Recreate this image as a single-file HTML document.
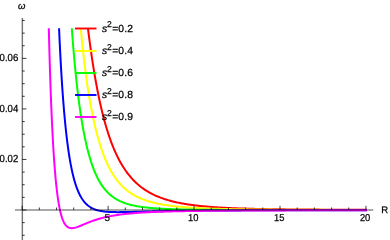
<!DOCTYPE html>
<html><head><meta charset="utf-8"><title>plot</title>
<style>
html,body{margin:0;padding:0;background:#fff;}
body{width:390px;height:240px;overflow:hidden;font-family:"Liberation Sans",sans-serif;}
svg{display:block;will-change:transform;}
text{font-family:"Liberation Sans",sans-serif;fill:#000;stroke:#000;stroke-width:0.25px;text-rendering:geometricPrecision;}
</style></head><body>
<svg width="390" height="240" viewBox="0 0 390 240">
<rect width="390" height="240" fill="#fff"/>
<g fill="none" stroke-width="2" stroke-linejoin="round" stroke-linecap="butt">
<path d="M87.93,28.30 L88.10,29.63 L88.20,30.43 L88.30,31.23 L88.50,32.80 L88.70,34.37 L88.90,35.92 L89.10,37.45 L89.30,38.98 L89.50,40.48 L89.70,41.98 L89.90,43.46 L90.10,44.92 L90.30,46.38 L90.50,47.82 L90.70,49.24 L90.90,50.66 L91.10,52.06 L91.30,53.44 L91.50,54.82 L91.70,56.18 L91.90,57.53 L92.10,58.86 L92.30,60.19 L92.50,61.50 L92.70,62.79 L92.90,64.08 L93.10,65.35 L93.30,66.61 L93.50,67.86 L93.70,69.10 L93.90,70.33 L94.10,71.54 L94.30,72.74 L94.50,73.93 L94.70,75.11 L94.90,76.28 L95.10,77.44 L95.30,78.58 L95.50,79.72 L95.70,80.84 L95.90,81.95 L96.10,83.05 L96.30,84.15 L96.50,85.23 L96.70,86.30 L96.90,87.36 L97.10,88.41 L97.30,89.45 L97.50,90.48 L97.70,91.50 L97.90,92.51 L98.10,93.51 L98.30,94.50 L98.50,95.48 L98.70,96.45 L98.90,97.42 L99.10,98.37 L99.30,99.31 L99.50,100.25 L99.70,101.18 L99.90,102.09 L100.10,103.00 L100.30,103.90 L100.50,104.79 L100.70,105.68 L100.90,106.55 L101.10,107.42 L101.30,108.28 L101.50,109.12 L101.70,109.97 L101.90,110.80 L102.10,111.63 L102.30,112.44 L102.50,113.25 L102.70,114.06 L102.90,114.85 L103.10,115.64 L103.30,116.42 L103.60,117.57 L103.90,118.71 L104.20,119.84 L104.50,120.94 L104.80,122.03 L105.10,123.11 L105.40,124.17 L105.70,125.22 L106.00,126.25 L106.30,127.27 L106.60,128.27 L106.90,129.26 L107.20,130.24 L107.50,131.20 L107.80,132.15 L108.10,133.08 L108.40,134.00 L108.70,134.91 L109.00,135.81 L109.30,136.70 L109.60,137.57 L109.90,138.43 L110.20,139.28 L110.50,140.12 L110.80,140.94 L111.10,141.76 L111.40,142.56 L111.70,143.35 L112.00,144.13 L112.30,144.91 L112.60,145.67 L112.90,146.42 L113.30,147.40 L113.70,148.37 L114.10,149.32 L114.50,150.25 L114.90,151.17 L115.30,152.07 L115.70,152.95 L116.10,153.82 L116.50,154.68 L116.90,155.52 L117.30,156.34 L117.70,157.15 L118.10,157.95 L118.50,158.73 L118.90,159.50 L119.30,160.25 L119.70,160.99 L120.10,161.72 L120.50,162.44 L120.90,163.14 L121.40,164.01 L121.90,164.85 L122.40,165.68 L122.90,166.49 L123.40,167.28 L123.90,168.06 L124.40,168.82 L124.90,169.56 L125.40,170.29 L125.90,171.01 L126.40,171.70 L126.90,172.39 L127.40,173.06 L127.90,173.72 L128.40,174.36 L128.90,174.99 L129.50,175.73 L131.00,177.50 L132.00,178.62 L133.00,179.70 L134.00,180.73 L135.00,181.73 L136.00,182.68 L137.00,183.60 L138.00,184.49 L139.00,185.33 L140.00,186.15 L141.00,186.94 L142.00,187.69 L143.00,188.42 L144.00,189.12 L145.00,189.80 L146.00,190.45 L147.00,191.08 L148.00,191.68 L149.00,192.26 L150.00,192.82 L151.00,193.36 L152.00,193.88 L153.00,194.38 L154.00,194.87 L155.00,195.34 L156.00,195.79 L157.00,196.22 L158.00,196.64 L159.00,197.05 L160.00,197.44 L161.00,197.82 L162.00,198.18 L163.00,198.53 L164.00,198.87 L165.00,199.20 L166.00,199.52 L167.00,199.83 L168.00,200.12 L169.00,200.41 L170.00,200.69 L171.00,200.96 L172.00,201.22 L173.00,201.47 L174.00,201.71 L175.00,201.95 L176.00,202.18 L177.00,202.40 L178.00,202.61 L179.00,202.82 L180.00,203.02 L181.00,203.21 L182.00,203.40 L183.00,203.58 L184.00,203.75 L185.00,203.92 L186.00,204.09 L187.00,204.25 L188.00,204.40 L189.00,204.56 L190.00,204.70 L191.00,204.84 L192.00,204.98 L193.00,205.11 L194.00,205.24 L195.00,205.37 L196.00,205.49 L197.00,205.61 L198.00,205.72 L199.00,205.83 L200.00,205.94 L201.00,206.04 L202.00,206.14 L203.00,206.24 L204.00,206.34 L205.00,206.43 L206.00,206.52 L207.00,206.61 L208.00,206.69 L209.00,206.77 L210.00,206.85 L211.00,206.93 L212.00,207.01 L213.00,207.08 L214.00,207.15 L215.00,207.22 L216.00,207.29 L217.00,207.35 L218.00,207.42 L219.00,207.48 L220.00,207.54 L221.00,207.60 L222.00,207.66 L223.00,207.71 L224.00,207.76 L225.00,207.82 L226.00,207.87 L227.00,207.92 L228.00,207.97 L229.00,208.01 L230.00,208.06 L231.00,208.10 L232.00,208.15 L233.00,208.19 L234.00,208.23 L235.00,208.27 L236.00,208.31 L237.00,208.35 L238.00,208.38 L239.00,208.42 L240.00,208.45 L241.00,208.49 L242.00,208.52 L243.00,208.55 L244.00,208.58 L245.00,208.61 L246.00,208.64 L247.00,208.67 L248.00,208.70 L249.00,208.73 L250.00,208.75 L251.00,208.78 L252.00,208.81 L253.00,208.83 L254.00,208.85 L255.00,208.88 L256.00,208.90 L257.00,208.92 L258.00,208.95 L259.00,208.97 L260.00,208.99 L261.00,209.01 L262.00,209.03 L263.00,209.05 L264.00,209.07 L265.00,209.08 L266.00,209.10 L267.00,209.12 L268.00,209.14 L269.00,209.15 L270.00,209.17 L271.00,209.18 L272.00,209.20 L273.00,209.21 L274.00,209.23 L275.00,209.24 L276.00,209.26 L277.00,209.27 L278.00,209.28 L279.00,209.30 L280.00,209.31 L281.00,209.32 L282.00,209.33 L283.00,209.34 L284.00,209.36 L285.00,209.37 L286.00,209.38 L287.00,209.39 L288.00,209.40 L289.00,209.41 L290.00,209.42 L291.00,209.43 L292.00,209.44 L293.00,209.45 L294.00,209.46 L295.00,209.47 L296.00,209.47 L297.00,209.48 L298.00,209.49 L299.00,209.50 L300.00,209.51 L301.00,209.51 L302.00,209.52 L303.00,209.53 L304.00,209.54 L305.00,209.54 L306.00,209.55 L307.00,209.56 L308.00,209.56 L309.00,209.57 L310.00,209.57 L311.00,209.58 L312.00,209.59 L313.00,209.59 L314.00,209.60 L315.00,209.60 L316.00,209.61 L317.00,209.61 L318.00,209.62 L319.00,209.62 L320.00,209.63 L321.00,209.63 L322.00,209.64 L323.00,209.64 L324.00,209.65 L325.00,209.65 L326.00,209.66 L327.00,209.66 L328.00,209.66 L329.00,209.67 L330.00,209.67 L331.00,209.68 L332.00,209.68 L333.00,209.68 L334.00,209.69 L335.00,209.69 L336.00,209.69 L337.00,209.70 L338.00,209.70 L339.00,209.70 L340.00,209.71 L341.00,209.71 L342.00,209.71 L343.00,209.72 L344.00,209.72 L345.00,209.72 L346.00,209.72 L347.00,209.73 L348.00,209.73 L349.00,209.73 L350.00,209.73 L351.00,209.74 L352.00,209.74 L353.00,209.74 L354.00,209.74 L355.00,209.75 L356.00,209.75 L357.00,209.75 L358.00,209.75 L359.00,209.75 L360.00,209.76 L361.00,209.76 L362.00,209.76 L363.00,209.76 L364.00,209.76 L365.00,209.77 L366.00,209.77 L367.00,209.77" stroke="#ff0000"/>
<path d="M80.74,28.30 L80.90,29.99 L81.00,31.06 L81.10,32.12 L81.20,33.18 L81.30,34.22 L81.40,35.26 L81.50,36.28 L81.60,37.30 L81.70,38.32 L81.80,39.32 L81.90,40.32 L82.00,41.31 L82.10,42.29 L82.20,43.26 L82.30,44.23 L82.40,45.19 L82.50,46.14 L82.60,47.08 L82.70,48.02 L82.80,48.95 L82.90,49.87 L83.00,50.79 L83.10,51.70 L83.20,52.60 L83.30,53.50 L83.40,54.39 L83.50,55.27 L83.60,56.15 L83.70,57.02 L83.80,57.88 L83.90,58.74 L84.00,59.59 L84.10,60.44 L84.20,61.28 L84.30,62.11 L84.40,62.94 L84.50,63.76 L84.60,64.58 L84.70,65.39 L84.80,66.20 L84.90,67.00 L85.00,67.79 L85.20,69.36 L85.40,70.91 L85.60,72.44 L85.80,73.95 L86.00,75.44 L86.20,76.91 L86.40,78.36 L86.60,79.79 L86.80,81.20 L87.00,82.59 L87.20,83.97 L87.40,85.32 L87.60,86.66 L87.80,87.98 L88.00,89.29 L88.20,90.58 L88.40,91.85 L88.60,93.11 L88.80,94.35 L89.00,95.57 L89.20,96.78 L89.40,97.97 L89.60,99.15 L89.80,100.32 L90.00,101.47 L90.20,102.61 L90.40,103.73 L90.60,104.84 L90.80,105.93 L91.00,107.02 L91.20,108.09 L91.40,109.14 L91.60,110.19 L91.80,111.22 L92.00,112.24 L92.20,113.24 L92.40,114.24 L92.60,115.22 L92.80,116.19 L93.00,117.15 L93.20,118.10 L93.40,119.04 L93.60,119.96 L93.80,120.88 L94.00,121.78 L94.20,122.68 L94.40,123.56 L94.60,124.43 L94.80,125.30 L95.00,126.15 L95.20,127.00 L95.40,127.83 L95.60,128.65 L95.80,129.47 L96.00,130.27 L96.20,131.07 L96.40,131.86 L96.60,132.64 L96.90,133.79 L97.20,134.92 L97.50,136.03 L97.80,137.12 L98.10,138.20 L98.40,139.26 L98.70,140.30 L99.00,141.32 L99.30,142.32 L99.60,143.31 L99.90,144.28 L100.20,145.24 L100.50,146.18 L100.80,147.10 L101.10,148.01 L101.40,148.91 L101.70,149.79 L102.00,150.65 L102.30,151.50 L102.60,152.34 L102.90,153.16 L103.20,153.97 L103.50,154.77 L103.80,155.55 L104.10,156.32 L104.40,157.08 L104.70,157.83 L105.10,158.81 L105.50,159.76 L105.90,160.70 L106.30,161.61 L106.70,162.51 L107.10,163.39 L107.50,164.25 L107.90,165.09 L108.30,165.91 L108.70,166.72 L109.10,167.51 L109.50,168.28 L109.90,169.03 L110.30,169.78 L110.70,170.50 L111.10,171.21 L111.50,171.91 L112.00,172.76 L112.50,173.58 L113.00,174.39 L113.50,175.18 L114.00,175.94 L114.50,176.69 L115.00,177.42 L115.50,178.13 L116.00,178.82 L116.50,179.49 L117.00,180.15 L117.50,180.79 L118.00,181.42 L118.60,182.15 L119.20,182.86 L119.80,183.54 L120.40,184.21 L121.00,184.86 L121.60,185.49 L122.20,186.10 L122.80,186.69 L123.40,187.27 L124.00,187.83 L124.60,188.37 L125.30,188.99 L126.00,189.58 L126.70,190.15 L127.40,190.71 L128.10,191.25 L128.80,191.77 L129.50,192.27 L131.00,193.30 L132.00,193.94 L133.00,194.56 L134.00,195.14 L135.00,195.71 L136.00,196.24 L137.00,196.75 L138.00,197.25 L139.00,197.71 L140.00,198.16 L141.00,198.59 L142.00,199.00 L143.00,199.40 L144.00,199.77 L145.00,200.14 L146.00,200.48 L147.00,200.81 L148.00,201.13 L149.00,201.44 L150.00,201.73 L151.00,202.01 L152.00,202.28 L153.00,202.54 L154.00,202.79 L155.00,203.02 L156.00,203.25 L157.00,203.47 L158.00,203.69 L159.00,203.89 L160.00,204.08 L161.00,204.27 L162.00,204.45 L163.00,204.63 L164.00,204.80 L165.00,204.96 L166.00,205.11 L167.00,205.26 L168.00,205.41 L169.00,205.55 L170.00,205.68 L171.00,205.81 L172.00,205.93 L173.00,206.05 L174.00,206.17 L175.00,206.28 L176.00,206.39 L177.00,206.49 L178.00,206.59 L179.00,206.69 L180.00,206.78 L181.00,206.87 L182.00,206.96 L183.00,207.05 L184.00,207.13 L185.00,207.21 L186.00,207.28 L187.00,207.36 L188.00,207.43 L189.00,207.50 L190.00,207.56 L191.00,207.63 L192.00,207.69 L193.00,207.75 L194.00,207.81 L195.00,207.87 L196.00,207.92 L197.00,207.98 L198.00,208.03 L199.00,208.08 L200.00,208.13 L201.00,208.18 L202.00,208.22 L203.00,208.27 L204.00,208.31 L205.00,208.35 L206.00,208.39 L207.00,208.43 L208.00,208.47 L209.00,208.51 L210.00,208.54 L211.00,208.58 L212.00,208.61 L213.00,208.64 L214.00,208.68 L215.00,208.71 L216.00,208.74 L217.00,208.77 L218.00,208.80 L219.00,208.82 L220.00,208.85 L221.00,208.88 L222.00,208.90 L223.00,208.93 L224.00,208.95 L225.00,208.98 L226.00,209.00 L227.00,209.02 L228.00,209.04 L229.00,209.07 L230.00,209.09 L231.00,209.11 L232.00,209.13 L233.00,209.15 L234.00,209.16 L235.00,209.18 L236.00,209.20 L237.00,209.22 L238.00,209.23 L239.00,209.25 L240.00,209.27 L241.00,209.28 L242.00,209.30 L243.00,209.31 L244.00,209.33 L245.00,209.34 L246.00,209.36 L247.00,209.37 L248.00,209.38 L249.00,209.40 L250.00,209.41 L251.00,209.42 L252.00,209.43 L253.00,209.44 L254.00,209.46 L255.00,209.47 L256.00,209.48 L257.00,209.49 L258.00,209.50 L259.00,209.51 L260.00,209.52 L261.00,209.53 L262.00,209.54 L263.00,209.55 L264.00,209.56 L265.00,209.57 L266.00,209.58 L267.00,209.58 L268.00,209.59 L269.00,209.60 L270.00,209.61 L271.00,209.62 L272.00,209.62 L273.00,209.63 L274.00,209.64 L275.00,209.65 L276.00,209.65 L277.00,209.66 L278.00,209.67 L279.00,209.67 L280.00,209.68 L281.00,209.69 L282.00,209.69 L283.00,209.70 L284.00,209.70 L285.00,209.71 L286.00,209.72 L287.00,209.72 L288.00,209.73 L289.00,209.73 L290.00,209.74 L291.00,209.74 L292.00,209.75 L293.00,209.75 L294.00,209.76 L295.00,209.76 L296.00,209.77 L297.00,209.77 L298.00,209.78 L299.00,209.78 L300.00,209.79 L301.00,209.79 L302.00,209.79 L303.00,209.80 L304.00,209.80 L305.00,209.81 L306.00,209.81 L307.00,209.81 L308.00,209.82 L309.00,209.82 L310.00,209.83 L311.00,209.83 L312.00,209.83 L313.00,209.84 L314.00,209.84 L315.00,209.84 L316.00,209.85 L317.00,209.85 L318.00,209.85 L319.00,209.86 L320.00,209.86 L321.00,209.86 L322.00,209.86 L323.00,209.87 L324.00,209.87 L325.00,209.87 L326.00,209.88 L327.00,209.88 L328.00,209.88 L329.00,209.88 L330.00,209.89 L331.00,209.89 L332.00,209.89 L333.00,209.89 L334.00,209.90 L335.00,209.90 L336.00,209.90 L337.00,209.90 L338.00,209.90 L339.00,209.91 L340.00,209.91 L341.00,209.91 L342.00,209.91 L343.00,209.92 L344.00,209.92 L345.00,209.92 L346.00,209.92 L347.00,209.92 L348.00,209.92 L349.00,209.93 L350.00,209.93 L351.00,209.93 L352.00,209.93 L353.00,209.93 L354.00,209.94 L355.00,209.94 L356.00,209.94 L357.00,209.94 L358.00,209.94 L359.00,209.94 L360.00,209.95 L361.00,209.95 L362.00,209.95 L363.00,209.95 L364.00,209.95 L365.00,209.95 L366.00,209.95 L367.00,209.96" stroke="#ffff00"/>
<path d="M71.81,28.30 L71.90,29.57 L72.00,30.94 L72.10,32.30 L72.20,33.64 L72.30,34.97 L72.40,36.29 L72.50,37.60 L72.60,38.90 L72.70,40.18 L72.80,41.45 L72.90,42.71 L73.00,43.96 L73.10,45.20 L73.20,46.42 L73.30,47.64 L73.40,48.84 L73.50,50.03 L73.60,51.21 L73.70,52.38 L73.80,53.55 L73.90,54.70 L74.00,55.84 L74.10,56.97 L74.20,58.09 L74.30,59.20 L74.40,60.30 L74.50,61.39 L74.60,62.47 L74.70,63.55 L74.80,64.61 L74.90,65.67 L75.00,66.71 L75.10,67.75 L75.20,68.78 L75.30,69.79 L75.40,70.80 L75.50,71.81 L75.60,72.80 L75.70,73.79 L75.80,74.76 L75.90,75.73 L76.00,76.69 L76.10,77.65 L76.20,78.59 L76.30,79.53 L76.40,80.46 L76.50,81.38 L76.60,82.29 L76.70,83.20 L76.80,84.10 L76.90,84.99 L77.00,85.88 L77.10,86.76 L77.20,87.63 L77.30,88.49 L77.40,89.35 L77.50,90.20 L77.60,91.04 L77.70,91.88 L77.80,92.71 L77.90,93.53 L78.00,94.35 L78.10,95.16 L78.20,95.96 L78.30,96.76 L78.50,98.33 L78.70,99.89 L78.90,101.41 L79.10,102.92 L79.30,104.40 L79.50,105.85 L79.70,107.29 L79.90,108.70 L80.10,110.09 L80.30,111.46 L80.50,112.81 L80.70,114.14 L80.90,115.45 L81.10,116.74 L81.30,118.00 L81.50,119.25 L81.70,120.49 L81.90,121.70 L82.10,122.89 L82.30,124.07 L82.50,125.23 L82.70,126.37 L82.90,127.50 L83.10,128.60 L83.30,129.70 L83.50,130.77 L83.70,131.83 L83.90,132.88 L84.10,133.90 L84.30,134.92 L84.50,135.92 L84.70,136.90 L84.90,137.87 L85.10,138.83 L85.30,139.77 L85.50,140.70 L85.70,141.61 L85.90,142.52 L86.10,143.40 L86.30,144.28 L86.50,145.14 L86.70,145.99 L86.90,146.83 L87.10,147.66 L87.30,148.47 L87.50,149.28 L87.70,150.07 L87.90,150.85 L88.20,152.00 L88.50,153.12 L88.80,154.22 L89.10,155.30 L89.40,156.35 L89.70,157.39 L90.00,158.40 L90.30,159.39 L90.60,160.36 L90.90,161.30 L91.20,162.23 L91.50,163.14 L91.80,164.03 L92.10,164.90 L92.40,165.76 L92.70,166.59 L93.00,167.41 L93.30,168.21 L93.60,169.00 L93.90,169.76 L94.20,170.52 L94.60,171.50 L95.00,172.45 L95.40,173.38 L95.80,174.28 L96.20,175.15 L96.60,176.01 L97.00,176.84 L97.40,177.65 L97.80,178.43 L98.20,179.20 L98.60,179.94 L99.00,180.67 L99.40,181.37 L99.90,182.23 L100.40,183.06 L100.90,183.86 L101.40,184.63 L101.90,185.38 L102.40,186.10 L102.90,186.80 L103.40,187.48 L103.90,188.14 L104.40,188.77 L105.00,189.51 L105.60,190.21 L106.20,190.89 L106.80,191.54 L107.40,192.17 L108.00,192.78 L108.60,193.36 L109.20,193.92 L109.80,194.46 L110.50,195.06 L111.20,195.64 L111.90,196.19 L112.60,196.72 L113.30,197.23 L114.00,197.71 L114.70,198.18 L115.40,198.62 L116.10,199.05 L116.80,199.45 L117.50,199.85 L118.30,200.27 L119.10,200.68 L119.90,201.07 L120.70,201.44 L121.50,201.79 L122.30,202.12 L123.10,202.45 L123.90,202.75 L124.70,203.04 L125.50,203.32 L126.30,203.59 L127.10,203.84 L127.90,204.09 L128.70,204.32 L129.50,204.54 L131.00,204.93 L132.00,205.17 L133.00,205.40 L134.00,205.62 L135.00,205.82 L136.00,206.02 L137.00,206.20 L138.00,206.38 L139.00,206.54 L140.00,206.70 L141.00,206.85 L142.00,206.99 L143.00,207.13 L144.00,207.25 L145.00,207.37 L146.00,207.49 L147.00,207.60 L148.00,207.70 L149.00,207.80 L150.00,207.89 L151.00,207.98 L152.00,208.07 L153.00,208.15 L154.00,208.23 L155.00,208.30 L156.00,208.37 L157.00,208.44 L158.00,208.50 L159.00,208.56 L160.00,208.62 L161.00,208.68 L162.00,208.73 L163.00,208.78 L164.00,208.83 L165.00,208.88 L166.00,208.92 L167.00,208.96 L168.00,209.00 L169.00,209.04 L170.00,209.08 L171.00,209.11 L172.00,209.15 L173.00,209.18 L174.00,209.21 L175.00,209.24 L176.00,209.27 L177.00,209.30 L178.00,209.32 L179.00,209.35 L180.00,209.37 L181.00,209.40 L182.00,209.42 L183.00,209.44 L184.00,209.46 L185.00,209.48 L186.00,209.50 L187.00,209.52 L188.00,209.54 L189.00,209.55 L190.00,209.57 L191.00,209.59 L192.00,209.60 L193.00,209.62 L194.00,209.63 L195.00,209.64 L196.00,209.66 L197.00,209.67 L198.00,209.68 L199.00,209.69 L200.00,209.71 L201.00,209.72 L202.00,209.73 L203.00,209.74 L204.00,209.75 L205.00,209.76 L206.00,209.77 L207.00,209.78 L208.00,209.78 L209.00,209.79 L210.00,209.80 L211.00,209.81 L212.00,209.82 L213.00,209.82 L214.00,209.83 L215.00,209.84 L216.00,209.84 L217.00,209.85 L218.00,209.86 L219.00,209.86 L220.00,209.87 L221.00,209.88 L222.00,209.88 L223.00,209.89 L224.00,209.89 L225.00,209.90 L226.00,209.90 L227.00,209.91 L228.00,209.91 L229.00,209.92 L230.00,209.92 L231.00,209.92 L232.00,209.93 L233.00,209.93 L234.00,209.94 L235.00,209.94 L236.00,209.94 L237.00,209.95 L238.00,209.95 L239.00,209.96 L240.00,209.96 L241.00,209.96 L242.00,209.96 L243.00,209.97 L244.00,209.97 L245.00,209.97 L246.00,209.98 L247.00,209.98 L248.00,209.98 L249.00,209.99 L250.00,209.99 L251.00,209.99 L252.00,209.99 L253.00,210.00 L254.00,210.00 L255.00,210.00 L256.00,210.00 L257.00,210.00 L258.00,210.01 L259.00,210.01 L260.00,210.01 L261.00,210.01 L262.00,210.01 L263.00,210.02 L264.00,210.02 L265.00,210.02 L266.00,210.02 L267.00,210.02 L268.00,210.03 L269.00,210.03 L270.00,210.03 L271.00,210.03 L272.00,210.03 L273.00,210.03 L274.00,210.03 L275.00,210.04 L276.00,210.04 L277.00,210.04 L278.00,210.04 L279.00,210.04 L280.00,210.04 L281.00,210.04 L282.00,210.05 L283.00,210.05 L284.00,210.05 L285.00,210.05 L286.00,210.05 L287.00,210.05 L288.00,210.05 L289.00,210.05 L290.00,210.05 L291.00,210.06 L292.00,210.06 L293.00,210.06 L294.00,210.06 L295.00,210.06 L296.00,210.06 L297.00,210.06 L298.00,210.06 L299.00,210.06 L300.00,210.06 L301.00,210.06 L302.00,210.07 L303.00,210.07 L304.00,210.07 L305.00,210.07 L306.00,210.07 L307.00,210.07 L308.00,210.07 L309.00,210.07 L310.00,210.07 L311.00,210.07 L312.00,210.07 L313.00,210.07 L314.00,210.07 L315.00,210.07 L316.00,210.08 L317.00,210.08 L318.00,210.08 L319.00,210.08 L320.00,210.08 L321.00,210.08 L322.00,210.08 L323.00,210.08 L324.00,210.08 L325.00,210.08 L326.00,210.08 L327.00,210.08 L328.00,210.08 L329.00,210.08 L330.00,210.08 L331.00,210.08 L332.00,210.08 L333.00,210.08 L334.00,210.08 L335.00,210.08 L336.00,210.09 L337.00,210.09 L338.00,210.09 L339.00,210.09 L340.00,210.09 L341.00,210.09 L342.00,210.09 L343.00,210.09 L344.00,210.09 L345.00,210.09 L346.00,210.09 L347.00,210.09 L348.00,210.09 L349.00,210.09 L350.00,210.09 L351.00,210.09 L352.00,210.09 L353.00,210.09 L354.00,210.09 L355.00,210.09 L356.00,210.09 L357.00,210.09 L358.00,210.09 L359.00,210.09 L360.00,210.09 L361.00,210.09 L362.00,210.09 L363.00,210.09 L364.00,210.09 L365.00,210.09 L366.00,210.09 L367.00,210.09" stroke="#00ff00"/>
<path d="M59.06,28.30 L59.10,29.25 L59.20,31.52 L59.30,33.75 L59.40,35.95 L59.50,38.12 L59.60,40.25 L59.70,42.36 L59.80,44.43 L59.90,46.48 L60.00,48.50 L60.10,50.48 L60.20,52.44 L60.30,54.37 L60.40,56.28 L60.50,58.16 L60.60,60.01 L60.70,61.83 L60.80,63.63 L60.90,65.41 L61.00,67.16 L61.10,68.89 L61.20,70.59 L61.30,72.28 L61.40,73.93 L61.50,75.57 L61.60,77.18 L61.70,78.78 L61.80,80.35 L61.90,81.90 L62.00,83.43 L62.10,84.94 L62.20,86.43 L62.30,87.90 L62.40,89.36 L62.50,90.79 L62.60,92.20 L62.70,93.60 L62.80,94.98 L62.90,96.34 L63.00,97.68 L63.10,99.01 L63.20,100.32 L63.30,101.61 L63.40,102.89 L63.50,104.15 L63.60,105.39 L63.70,106.62 L63.80,107.83 L63.90,109.03 L64.00,110.22 L64.10,111.38 L64.20,112.54 L64.30,113.68 L64.40,114.80 L64.50,115.92 L64.60,117.02 L64.70,118.10 L64.80,119.17 L64.90,120.23 L65.00,121.28 L65.10,122.31 L65.20,123.33 L65.30,124.34 L65.40,125.33 L65.50,126.32 L65.60,127.29 L65.70,128.25 L65.80,129.20 L65.90,130.14 L66.00,131.06 L66.10,131.98 L66.20,132.88 L66.30,133.78 L66.40,134.66 L66.50,135.53 L66.60,136.40 L66.70,137.25 L66.80,138.09 L66.90,138.92 L67.00,139.75 L67.10,140.56 L67.20,141.36 L67.30,142.15 L67.50,143.71 L67.70,145.24 L67.90,146.73 L68.10,148.18 L68.30,149.60 L68.50,150.99 L68.70,152.35 L68.90,153.67 L69.10,154.97 L69.30,156.23 L69.50,157.47 L69.70,158.68 L69.90,159.86 L70.10,161.02 L70.30,162.15 L70.50,163.25 L70.70,164.33 L70.90,165.38 L71.10,166.41 L71.30,167.42 L71.50,168.41 L71.70,169.37 L71.90,170.31 L72.10,171.24 L72.30,172.14 L72.50,173.02 L72.70,173.88 L72.90,174.72 L73.10,175.55 L73.30,176.35 L73.50,177.14 L73.80,178.29 L74.10,179.40 L74.40,180.48 L74.70,181.52 L75.00,182.53 L75.30,183.50 L75.60,184.44 L75.90,185.36 L76.20,186.24 L76.50,187.09 L76.80,187.92 L77.10,188.72 L77.40,189.49 L77.70,190.24 L78.10,191.20 L78.50,192.13 L78.90,193.01 L79.30,193.85 L79.70,194.66 L80.10,195.43 L80.50,196.17 L80.90,196.88 L81.40,197.73 L81.90,198.53 L82.40,199.29 L82.90,200.01 L83.40,200.69 L83.90,201.33 L84.50,202.06 L85.10,202.75 L85.70,203.39 L86.30,203.99 L86.90,204.55 L87.60,205.16 L88.30,205.73 L89.00,206.25 L89.70,206.74 L90.40,207.19 L91.10,207.61 L91.90,208.05 L92.70,208.45 L93.50,208.82 L94.30,209.15 L95.10,209.46 L95.90,209.74 L96.70,210.00 L97.50,210.23 L98.30,210.44 L99.10,210.63 L99.90,210.81 L100.70,210.97 L101.50,211.11 L102.30,211.24 L103.10,211.36 L103.90,211.46 L104.70,211.56 L105.50,211.64 L106.30,211.72 L107.10,211.79 L107.90,211.84 L108.70,211.90 L109.50,211.94 L110.30,211.98 L111.10,212.01 L111.90,212.04 L112.70,212.07 L113.50,212.09 L114.30,212.10 L115.10,212.11 L115.90,212.12 L116.70,212.13 L117.50,212.13 L118.30,212.13 L119.10,212.13 L119.90,212.12 L120.70,212.12 L121.50,212.11 L122.30,212.10 L123.10,212.09 L123.90,212.08 L124.70,212.06 L125.50,212.05 L126.30,212.03 L127.10,212.02 L127.90,212.00 L128.70,211.98 L129.50,211.96 L131.00,211.93 L132.00,211.90 L133.00,211.88 L134.00,211.85 L135.00,211.83 L136.00,211.80 L137.00,211.77 L138.00,211.75 L139.00,211.72 L140.00,211.69 L141.00,211.67 L142.00,211.64 L143.00,211.61 L144.00,211.59 L145.00,211.56 L146.00,211.54 L147.00,211.51 L148.00,211.49 L149.00,211.46 L150.00,211.44 L151.00,211.41 L152.00,211.39 L153.00,211.37 L154.00,211.34 L155.00,211.32 L156.00,211.30 L157.00,211.28 L158.00,211.26 L159.00,211.23 L160.00,211.21 L161.00,211.19 L162.00,211.17 L163.00,211.15 L164.00,211.13 L165.00,211.11 L166.00,211.10 L167.00,211.08 L168.00,211.06 L169.00,211.04 L170.00,211.02 L171.00,211.01 L172.00,210.99 L173.00,210.98 L174.00,210.96 L175.00,210.94 L176.00,210.93 L177.00,210.91 L178.00,210.90 L179.00,210.88 L180.00,210.87 L181.00,210.86 L182.00,210.84 L183.00,210.83 L184.00,210.82 L185.00,210.80 L186.00,210.79 L187.00,210.78 L188.00,210.77 L189.00,210.75 L190.00,210.74 L191.00,210.73 L192.00,210.72 L193.00,210.71 L194.00,210.70 L195.00,210.69 L196.00,210.68 L197.00,210.67 L198.00,210.66 L199.00,210.65 L200.00,210.64 L201.00,210.63 L202.00,210.62 L203.00,210.61 L204.00,210.60 L205.00,210.60 L206.00,210.59 L207.00,210.58 L208.00,210.57 L209.00,210.56 L210.00,210.56 L211.00,210.55 L212.00,210.54 L213.00,210.53 L214.00,210.53 L215.00,210.52 L216.00,210.51 L217.00,210.51 L218.00,210.50 L219.00,210.49 L220.00,210.49 L221.00,210.48 L222.00,210.47 L223.00,210.47 L224.00,210.46 L225.00,210.46 L226.00,210.45 L227.00,210.44 L228.00,210.44 L229.00,210.43 L230.00,210.43 L231.00,210.42 L232.00,210.42 L233.00,210.41 L234.00,210.41 L235.00,210.40 L236.00,210.40 L237.00,210.39 L238.00,210.39 L239.00,210.39 L240.00,210.38 L241.00,210.38 L242.00,210.37 L243.00,210.37 L244.00,210.36 L245.00,210.36 L246.00,210.36 L247.00,210.35 L248.00,210.35 L249.00,210.34 L250.00,210.34 L251.00,210.34 L252.00,210.33 L253.00,210.33 L254.00,210.33 L255.00,210.32 L256.00,210.32 L257.00,210.32 L258.00,210.31 L259.00,210.31 L260.00,210.31 L261.00,210.30 L262.00,210.30 L263.00,210.30 L264.00,210.30 L265.00,210.29 L266.00,210.29 L267.00,210.29 L268.00,210.28 L269.00,210.28 L270.00,210.28 L271.00,210.28 L272.00,210.27 L273.00,210.27 L274.00,210.27 L275.00,210.27 L276.00,210.26 L277.00,210.26 L278.00,210.26 L279.00,210.26 L280.00,210.25 L281.00,210.25 L282.00,210.25 L283.00,210.25 L284.00,210.25 L285.00,210.24 L286.00,210.24 L287.00,210.24 L288.00,210.24 L289.00,210.24 L290.00,210.23 L291.00,210.23 L292.00,210.23 L293.00,210.23 L294.00,210.23 L295.00,210.22 L296.00,210.22 L297.00,210.22 L298.00,210.22 L299.00,210.22 L300.00,210.21 L301.00,210.21 L302.00,210.21 L303.00,210.21 L304.00,210.21 L305.00,210.21 L306.00,210.20 L307.00,210.20 L308.00,210.20 L309.00,210.20 L310.00,210.20 L311.00,210.20 L312.00,210.20 L313.00,210.19 L314.00,210.19 L315.00,210.19 L316.00,210.19 L317.00,210.19 L318.00,210.19 L319.00,210.19 L320.00,210.18 L321.00,210.18 L322.00,210.18 L323.00,210.18 L324.00,210.18 L325.00,210.18 L326.00,210.18 L327.00,210.18 L328.00,210.17 L329.00,210.17 L330.00,210.17 L331.00,210.17 L332.00,210.17 L333.00,210.17 L334.00,210.17 L335.00,210.17 L336.00,210.17 L337.00,210.16 L338.00,210.16 L339.00,210.16 L340.00,210.16 L341.00,210.16 L342.00,210.16 L343.00,210.16 L344.00,210.16 L345.00,210.16 L346.00,210.16 L347.00,210.15 L348.00,210.15 L349.00,210.15 L350.00,210.15 L351.00,210.15 L352.00,210.15 L353.00,210.15 L354.00,210.15 L355.00,210.15 L356.00,210.15 L357.00,210.15 L358.00,210.14 L359.00,210.14 L360.00,210.14 L361.00,210.14 L362.00,210.14 L363.00,210.14 L364.00,210.14 L365.00,210.14 L366.00,210.14 L367.00,210.14" stroke="#0000ff"/>
<path d="M48.81,28.30 L48.90,31.85 L49.00,35.78 L49.10,39.63 L49.20,43.39 L49.30,47.08 L49.40,50.69 L49.50,54.23 L49.60,57.69 L49.70,61.09 L49.80,64.41 L49.90,67.67 L50.00,70.85 L50.10,73.98 L50.20,77.04 L50.30,80.04 L50.40,82.98 L50.50,85.87 L50.60,88.69 L50.70,91.46 L50.80,94.18 L50.90,96.84 L51.00,99.45 L51.10,102.01 L51.20,104.52 L51.30,106.98 L51.40,109.39 L51.50,111.76 L51.60,114.08 L51.70,116.36 L51.80,118.59 L51.90,120.78 L52.00,122.93 L52.10,125.03 L52.20,127.10 L52.30,129.13 L52.40,131.12 L52.50,133.07 L52.60,134.98 L52.70,136.86 L52.80,138.70 L52.90,140.51 L53.00,142.29 L53.10,144.03 L53.20,145.73 L53.30,147.41 L53.40,149.05 L53.50,150.67 L53.60,152.25 L53.70,153.80 L53.80,155.33 L53.90,156.82 L54.00,158.29 L54.10,159.73 L54.20,161.14 L54.30,162.53 L54.40,163.89 L54.50,165.22 L54.60,166.53 L54.70,167.82 L54.80,169.08 L54.90,170.32 L55.00,171.53 L55.10,172.72 L55.20,173.89 L55.30,175.04 L55.40,176.17 L55.50,177.27 L55.60,178.36 L55.70,179.42 L55.80,180.46 L55.90,181.49 L56.00,182.49 L56.10,183.48 L56.20,184.45 L56.30,185.40 L56.40,186.33 L56.50,187.24 L56.60,188.14 L56.70,189.02 L56.80,189.88 L56.90,190.73 L57.00,191.56 L57.10,192.37 L57.20,193.17 L57.40,194.72 L57.60,196.22 L57.80,197.65 L58.00,199.03 L58.20,200.36 L58.40,201.64 L58.60,202.87 L58.80,204.05 L59.00,205.19 L59.20,206.28 L59.40,207.33 L59.60,208.34 L59.80,209.31 L60.00,210.23 L60.20,211.13 L60.40,211.98 L60.60,212.81 L60.80,213.60 L61.10,214.72 L61.40,215.77 L61.70,216.76 L62.00,217.69 L62.30,218.56 L62.60,219.37 L62.90,220.14 L63.30,221.07 L63.70,221.93 L64.10,222.71 L64.50,223.41 L65.00,224.20 L65.50,224.89 L66.10,225.61 L66.70,226.22 L67.40,226.80 L68.10,227.25 L68.90,227.65 L69.70,227.92 L70.50,228.09 L71.30,228.17 L72.10,228.18 L72.90,228.12 L73.70,228.00 L74.50,227.84 L75.30,227.65 L76.10,227.42 L76.90,227.16 L77.70,226.88 L78.50,226.59 L79.30,226.28 L80.10,225.96 L80.90,225.63 L81.70,225.29 L82.50,224.96 L83.30,224.62 L84.10,224.28 L84.90,223.94 L85.70,223.61 L86.50,223.28 L87.30,222.95 L88.10,222.63 L88.90,222.31 L89.70,222.00 L90.50,221.69 L91.30,221.39 L92.10,221.10 L92.90,220.81 L93.70,220.53 L94.50,220.26 L95.30,219.99 L96.10,219.73 L96.90,219.48 L97.70,219.23 L98.50,218.99 L99.30,218.76 L100.10,218.53 L100.90,218.31 L101.70,218.10 L102.50,217.89 L103.30,217.69 L104.10,217.49 L104.90,217.30 L105.70,217.11 L106.50,216.94 L107.30,216.76 L108.10,216.59 L108.90,216.43 L109.70,216.27 L110.50,216.11 L111.30,215.96 L112.10,215.82 L112.90,215.68 L113.70,215.54 L114.50,215.41 L115.30,215.28 L116.10,215.16 L116.90,215.03 L117.70,214.92 L118.50,214.80 L119.30,214.69 L120.10,214.58 L120.90,214.48 L121.70,214.38 L122.50,214.28 L123.30,214.18 L124.10,214.09 L124.90,214.00 L125.70,213.91 L126.50,213.83 L127.30,213.74 L128.10,213.66 L128.90,213.59 L129.70,213.51 L131.00,213.39 L132.00,213.30 L133.00,213.22 L134.00,213.14 L135.00,213.06 L136.00,212.98 L137.00,212.91 L138.00,212.84 L139.00,212.77 L140.00,212.70 L141.00,212.64 L142.00,212.58 L143.00,212.51 L144.00,212.46 L145.00,212.40 L146.00,212.35 L147.00,212.29 L148.00,212.24 L149.00,212.19 L150.00,212.14 L151.00,212.10 L152.00,212.05 L153.00,212.01 L154.00,211.97 L155.00,211.93 L156.00,211.89 L157.00,211.85 L158.00,211.81 L159.00,211.77 L160.00,211.74 L161.00,211.70 L162.00,211.67 L163.00,211.64 L164.00,211.61 L165.00,211.58 L166.00,211.55 L167.00,211.52 L168.00,211.49 L169.00,211.46 L170.00,211.44 L171.00,211.41 L172.00,211.38 L173.00,211.36 L174.00,211.34 L175.00,211.31 L176.00,211.29 L177.00,211.27 L178.00,211.25 L179.00,211.23 L180.00,211.21 L181.00,211.19 L182.00,211.17 L183.00,211.15 L184.00,211.13 L185.00,211.11 L186.00,211.09 L187.00,211.08 L188.00,211.06 L189.00,211.04 L190.00,211.03 L191.00,211.01 L192.00,211.00 L193.00,210.98 L194.00,210.97 L195.00,210.96 L196.00,210.94 L197.00,210.93 L198.00,210.92 L199.00,210.90 L200.00,210.89 L201.00,210.88 L202.00,210.87 L203.00,210.85 L204.00,210.84 L205.00,210.83 L206.00,210.82 L207.00,210.81 L208.00,210.80 L209.00,210.79 L210.00,210.78 L211.00,210.77 L212.00,210.76 L213.00,210.75 L214.00,210.74 L215.00,210.73 L216.00,210.72 L217.00,210.71 L218.00,210.71 L219.00,210.70 L220.00,210.69 L221.00,210.68 L222.00,210.67 L223.00,210.67 L224.00,210.66 L225.00,210.65 L226.00,210.64 L227.00,210.64 L228.00,210.63 L229.00,210.62 L230.00,210.62 L231.00,210.61 L232.00,210.60 L233.00,210.60 L234.00,210.59 L235.00,210.58 L236.00,210.58 L237.00,210.57 L238.00,210.57 L239.00,210.56 L240.00,210.55 L241.00,210.55 L242.00,210.54 L243.00,210.54 L244.00,210.53 L245.00,210.53 L246.00,210.52 L247.00,210.52 L248.00,210.51 L249.00,210.51 L250.00,210.50 L251.00,210.50 L252.00,210.49 L253.00,210.49 L254.00,210.49 L255.00,210.48 L256.00,210.48 L257.00,210.47 L258.00,210.47 L259.00,210.46 L260.00,210.46 L261.00,210.46 L262.00,210.45 L263.00,210.45 L264.00,210.44 L265.00,210.44 L266.00,210.44 L267.00,210.43 L268.00,210.43 L269.00,210.43 L270.00,210.42 L271.00,210.42 L272.00,210.42 L273.00,210.41 L274.00,210.41 L275.00,210.41 L276.00,210.40 L277.00,210.40 L278.00,210.40 L279.00,210.39 L280.00,210.39 L281.00,210.39 L282.00,210.38 L283.00,210.38 L284.00,210.38 L285.00,210.38 L286.00,210.37 L287.00,210.37 L288.00,210.37 L289.00,210.36 L290.00,210.36 L291.00,210.36 L292.00,210.36 L293.00,210.35 L294.00,210.35 L295.00,210.35 L296.00,210.35 L297.00,210.34 L298.00,210.34 L299.00,210.34 L300.00,210.34 L301.00,210.33 L302.00,210.33 L303.00,210.33 L304.00,210.33 L305.00,210.33 L306.00,210.32 L307.00,210.32 L308.00,210.32 L309.00,210.32 L310.00,210.31 L311.00,210.31 L312.00,210.31 L313.00,210.31 L314.00,210.31 L315.00,210.30 L316.00,210.30 L317.00,210.30 L318.00,210.30 L319.00,210.30 L320.00,210.29 L321.00,210.29 L322.00,210.29 L323.00,210.29 L324.00,210.29 L325.00,210.29 L326.00,210.28 L327.00,210.28 L328.00,210.28 L329.00,210.28 L330.00,210.28 L331.00,210.28 L332.00,210.27 L333.00,210.27 L334.00,210.27 L335.00,210.27 L336.00,210.27 L337.00,210.27 L338.00,210.26 L339.00,210.26 L340.00,210.26 L341.00,210.26 L342.00,210.26 L343.00,210.26 L344.00,210.26 L345.00,210.25 L346.00,210.25 L347.00,210.25 L348.00,210.25 L349.00,210.25 L350.00,210.25 L351.00,210.25 L352.00,210.24 L353.00,210.24 L354.00,210.24 L355.00,210.24 L356.00,210.24 L357.00,210.24 L358.00,210.24 L359.00,210.23 L360.00,210.23 L361.00,210.23 L362.00,210.23 L363.00,210.23 L364.00,210.23 L365.00,210.23 L366.00,210.23 L367.00,210.23" stroke="#ff00ff"/>
</g>
<line x1="75" y1="28.5" x2="96.5" y2="28.5" stroke="#ff0000" stroke-width="1.9"/>
<text x="102" y="31.65" font-size="10.3" letter-spacing="0.15"><tspan font-style="italic">s</tspan><tspan font-size="8.5" dy="-4.3" dx="-0.3">2</tspan><tspan dy="4.3" dx="0.3">=0.2</tspan></text>
<line x1="75" y1="51" x2="96.5" y2="51" stroke="#ffff00" stroke-width="1.9"/>
<text x="102" y="54.15" font-size="10.3" letter-spacing="0.15"><tspan font-style="italic">s</tspan><tspan font-size="8.5" dy="-4.3" dx="-0.3">2</tspan><tspan dy="4.3" dx="0.3">=0.4</tspan></text>
<line x1="75" y1="73" x2="96.5" y2="73" stroke="#00ff00" stroke-width="1.9"/>
<text x="102" y="76.15" font-size="10.3" letter-spacing="0.15"><tspan font-style="italic">s</tspan><tspan font-size="8.5" dy="-4.3" dx="-0.3">2</tspan><tspan dy="4.3" dx="0.3">=0.6</tspan></text>
<line x1="75" y1="95" x2="96.5" y2="95" stroke="#0000ff" stroke-width="1.9"/>
<text x="102" y="98.15" font-size="10.3" letter-spacing="0.15"><tspan font-style="italic">s</tspan><tspan font-size="8.5" dy="-4.3" dx="-0.3">2</tspan><tspan dy="4.3" dx="0.3">=0.8</tspan></text>
<line x1="75" y1="117" x2="96.5" y2="117" stroke="#ff00ff" stroke-width="1.9"/>
<text x="102" y="120.15" font-size="10.3" letter-spacing="0.15"><tspan font-style="italic">s</tspan><tspan font-size="8.5" dy="-4.3" dx="-0.3">2</tspan><tspan dy="4.3" dx="0.3">=0.9</tspan></text>
<g stroke="#000" stroke-opacity="0.45" stroke-width="1.5" fill="none">
<line x1="15" y1="210.1" x2="373.3" y2="210.1"/>
<line x1="22.349999999999998" y1="18" x2="22.349999999999998" y2="240" stroke-opacity="0.55" stroke-width="1.4"/>
</g>
<g stroke="#000" stroke-opacity="0.85" stroke-width="0.9" fill="none">
<line x1="22.15" y1="210.0" x2="22.15" y2="205.80"/>
<line x1="39.34" y1="210.0" x2="39.34" y2="207.50"/>
<line x1="56.53" y1="210.0" x2="56.53" y2="207.50"/>
<line x1="73.72" y1="210.0" x2="73.72" y2="207.50"/>
<line x1="90.91" y1="210.0" x2="90.91" y2="207.50"/>
<line x1="108.10" y1="210.0" x2="108.10" y2="205.80"/>
<line x1="125.29" y1="210.0" x2="125.29" y2="207.50"/>
<line x1="142.48" y1="210.0" x2="142.48" y2="207.50"/>
<line x1="159.67" y1="210.0" x2="159.67" y2="207.50"/>
<line x1="176.86" y1="210.0" x2="176.86" y2="207.50"/>
<line x1="194.05" y1="210.0" x2="194.05" y2="205.80"/>
<line x1="211.24" y1="210.0" x2="211.24" y2="207.50"/>
<line x1="228.43" y1="210.0" x2="228.43" y2="207.50"/>
<line x1="245.62" y1="210.0" x2="245.62" y2="207.50"/>
<line x1="262.81" y1="210.0" x2="262.81" y2="207.50"/>
<line x1="280.00" y1="210.0" x2="280.00" y2="205.80"/>
<line x1="297.19" y1="210.0" x2="297.19" y2="207.50"/>
<line x1="314.38" y1="210.0" x2="314.38" y2="207.50"/>
<line x1="331.57" y1="210.0" x2="331.57" y2="207.50"/>
<line x1="348.76" y1="210.0" x2="348.76" y2="207.50"/>
<line x1="365.95" y1="210.0" x2="365.95" y2="205.80"/>
<line x1="22.2" y1="235.27" x2="24.70" y2="235.27"/>
<line x1="22.2" y1="222.63" x2="24.70" y2="222.63"/>
<line x1="22.2" y1="210.00" x2="26.40" y2="210.00"/>
<line x1="22.2" y1="197.37" x2="24.70" y2="197.37"/>
<line x1="22.2" y1="184.73" x2="24.70" y2="184.73"/>
<line x1="22.2" y1="172.09" x2="24.70" y2="172.09"/>
<line x1="22.2" y1="159.46" x2="26.40" y2="159.46"/>
<line x1="22.2" y1="146.82" x2="24.70" y2="146.82"/>
<line x1="22.2" y1="134.19" x2="24.70" y2="134.19"/>
<line x1="22.2" y1="121.55" x2="24.70" y2="121.55"/>
<line x1="22.2" y1="108.92" x2="26.40" y2="108.92"/>
<line x1="22.2" y1="96.29" x2="24.70" y2="96.29"/>
<line x1="22.2" y1="83.65" x2="24.70" y2="83.65"/>
<line x1="22.2" y1="71.01" x2="24.70" y2="71.01"/>
<line x1="22.2" y1="58.38" x2="26.40" y2="58.38"/>
<line x1="22.2" y1="45.75" x2="24.70" y2="45.75"/>
<line x1="22.2" y1="33.11" x2="24.70" y2="33.11"/>
<line x1="22.2" y1="20.47" x2="24.70" y2="20.47"/>
</g>
<text x="107.25" y="221.1" text-anchor="middle" font-size="10">5</text>
<text x="193.20" y="221.1" text-anchor="middle" font-size="10" textLength="10.4" lengthAdjust="spacingAndGlyphs">10</text>
<text x="279.15" y="221.1" text-anchor="middle" font-size="10" textLength="10.4" lengthAdjust="spacingAndGlyphs">15</text>
<text x="365.10" y="221.1" text-anchor="middle" font-size="10" textLength="10.4" lengthAdjust="spacingAndGlyphs">20</text>
<text x="18.25" y="162.21" text-anchor="end" font-size="10.2" textLength="18.7" lengthAdjust="spacingAndGlyphs">0.02</text>
<text x="18.25" y="111.67" text-anchor="end" font-size="10.2" textLength="18.7" lengthAdjust="spacingAndGlyphs">0.04</text>
<text x="18.25" y="61.13" text-anchor="end" font-size="10.2" textLength="18.7" lengthAdjust="spacingAndGlyphs">0.06</text>

<text x="381.2" y="212.6" font-size="9.5">R</text>
<text x="18" y="8.8" font-size="9.5" font-style="italic">ω</text>
</svg>
</body></html>
